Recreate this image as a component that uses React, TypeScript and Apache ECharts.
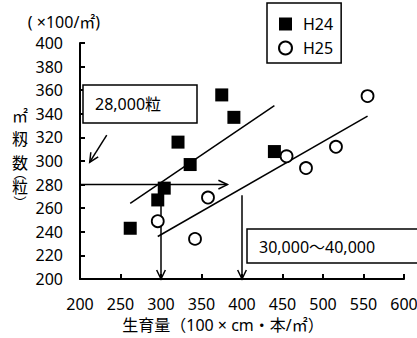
import React, { useEffect, useRef } from "react";
import * as echarts from "echarts";

const h24: [number, number][] = [
  [262, 243], [296, 267], [304, 277], [321, 316], [336, 297], [375, 356], [390, 337], [440, 308],
];
const h25: [number, number][] = [
  [296, 249], [342, 234], [358, 269], [455, 304], [479, 294], [516, 312], [555, 355],
];
const h24Trend: [number, number][] = [[262, 264], [440, 347]];
const h25Trend: [number, number][] = [[296, 236], [555, 338]];
// arrows: [x1, y1, x2, y2]
const arrows: number[][] = [
  [200, 280, 382, 280],
  [300, 280, 300, 200],
  [400, 271, 400, 200],
  [233, 322, 212, 299],
];
const xTicks = { min: 200, max: 600, interval: 50 };
const yTicks = { min: 200, max: 400, interval: 20 };

const FONT = "'Noto Sans', 'Noto Sans CJK JP', sans-serif";
const CJK = "'Noto Sans CJK JP', sans-serif";

export default function App() {
  const ref = useRef<HTMLDivElement>(null);
  useEffect(() => {
    if (!ref.current) return;
    document.body.style.margin = "0";
    const chart = echarts.init(ref.current, null, { renderer: "svg" });
    const vChars = [
      { t: "㎡", y: 115, size: 16 },
      { t: "籾", y: 138, size: 16 },
      { t: "数", y: 162, size: 16 },
      { t: "︵", y: 172, size: 13 },
      { t: "粒", y: 186, size: 16 },
      { t: "︶", y: 201, size: 13 },
    ];
    chart.setOption({
      animation: false,
      grid: { left: 80, right: 13, top: 43, bottom: 59, outerBoundsMode: "none", containLabel: false },
      legend: {
        left: 267,
        top: 3,
        orient: "vertical",
        data: ["H24", "H25"],
        borderColor: "#000",
        borderWidth: 1.5,
        padding: [13, 8, 7, 11],
        itemWidth: 13,
        itemHeight: 13,
        itemGap: 8,
        textStyle: { fontFamily: FONT, fontSize: 16, color: "#000", lineHeight: 16, padding: [0, 0, 0, 6] },
      },
      xAxis: {
        type: "value",
        min: xTicks.min,
        max: xTicks.max,
        interval: xTicks.interval,
        splitLine: { show: false },
        axisLine: { lineStyle: { color: "#000", width: 2 } },
        axisTick: { inside: true, length: 5, lineStyle: { color: "#000", width: 2 } },
        axisLabel: { fontFamily: FONT, fontSize: 16, color: "#000", margin: 17 },
        name: "生育量（100 × cm・本/㎡）",
        nameLocation: "middle",
        nameGap: 38,
        nameTextStyle: { fontFamily: FONT, fontSize: 16, color: "#000", padding: [0, 38, 0, 0] },
      },
      yAxis: {
        type: "value",
        min: yTicks.min,
        max: yTicks.max,
        interval: yTicks.interval,
        splitLine: { show: false },
        axisLine: { show: true, lineStyle: { color: "#000", width: 2 } },
        axisTick: { show: true, inside: true, length: 5, lineStyle: { color: "#000", width: 2 } },
        axisLabel: { fontFamily: FONT, fontSize: 16, color: "#000", margin: 17 },
        name: "( ×100/㎡)",
        nameLocation: "end",
        nameGap: 13,
        nameTextStyle: { fontFamily: FONT, fontSize: 16, color: "#000", align: "center", padding: [0, 32, 0, 0] },
      },
      graphic: [
        ...vChars.map((c) => ({
          type: "text",
          x: 20,
          y: c.y,
          style: { text: c.t, fontFamily: CJK, fontSize: c.size, lineHeight: c.size, fill: "#000", align: "center", verticalAlign: "middle" },
          z: 10,
        })),
        {
          type: "rect",
          shape: { x: 83, y: 85, width: 114, height: 38 },
          style: { fill: "#fff", stroke: "#000", lineWidth: 1.5 },
          z: 5,
        },
        {
          type: "text",
          x: 95,
          y: 104,
          style: { text: "28,000粒", fontFamily: FONT, fontSize: 16, fill: "#000", verticalAlign: "middle" },
          z: 6,
        },
        {
          type: "rect",
          shape: { x: 247, y: 229, width: 180, height: 34 },
          style: { fill: "#fff", stroke: "#000", lineWidth: 1.5 },
          z: 5,
        },
        {
          type: "text",
          x: 259,
          y: 247,
          style: { text: "30,000～40,000", fontFamily: FONT, fontSize: 16, fill: "#000", verticalAlign: "middle" },
          z: 6,
        },
      ],
      series: [
        {
          type: "line",
          data: h24Trend,
          symbol: "none",
          lineStyle: { color: "#000", width: 1.5 },
          silent: true,
          z: 2,
        },
        {
          type: "line",
          data: h25Trend,
          symbol: "none",
          lineStyle: { color: "#000", width: 1.5 },
          silent: true,
          z: 2,
        },
        {
          type: "custom",
          data: arrows,
          clip: false,
          z: 2,
          renderItem: (params: any, api: any) => {
            const p1 = api.coord([api.value(0), api.value(1)]);
            const p2 = api.coord([api.value(2), api.value(3)]);
            const ang = Math.atan2(p2[1] - p1[1], p2[0] - p1[0]);
            const len = 10;
            const spread = 0.45;
            const a1 = [p2[0] - len * Math.cos(ang - spread), p2[1] - len * Math.sin(ang - spread)];
            const a2 = [p2[0] - len * Math.cos(ang + spread), p2[1] - len * Math.sin(ang + spread)];
            const st = { stroke: "#000", lineWidth: 1.5, fill: "none" };
            return {
              type: "group",
              children: [
                { type: "line", shape: { x1: p1[0], y1: p1[1], x2: p2[0], y2: p2[1] }, style: st },
                { type: "polyline", shape: { points: [a1, p2, a2] }, style: st },
              ],
            };
          },
        },
        {
          name: "H24",
          type: "scatter",
          data: h24,
          symbol: "rect",
          symbolSize: 13,
          itemStyle: { color: "#000", opacity: 1 },
          z: 4,
        },
        {
          name: "H25",
          type: "scatter",
          data: h25,
          symbol: "circle",
          symbolSize: 12,
          itemStyle: { color: "#fff", borderColor: "#000", borderWidth: 1.8, opacity: 1 },
          z: 4,
        },
      ],
    });
    return () => chart.dispose();
  }, []);
  return <div ref={ref} style={{ width: 417, height: 338 }} />;
}
